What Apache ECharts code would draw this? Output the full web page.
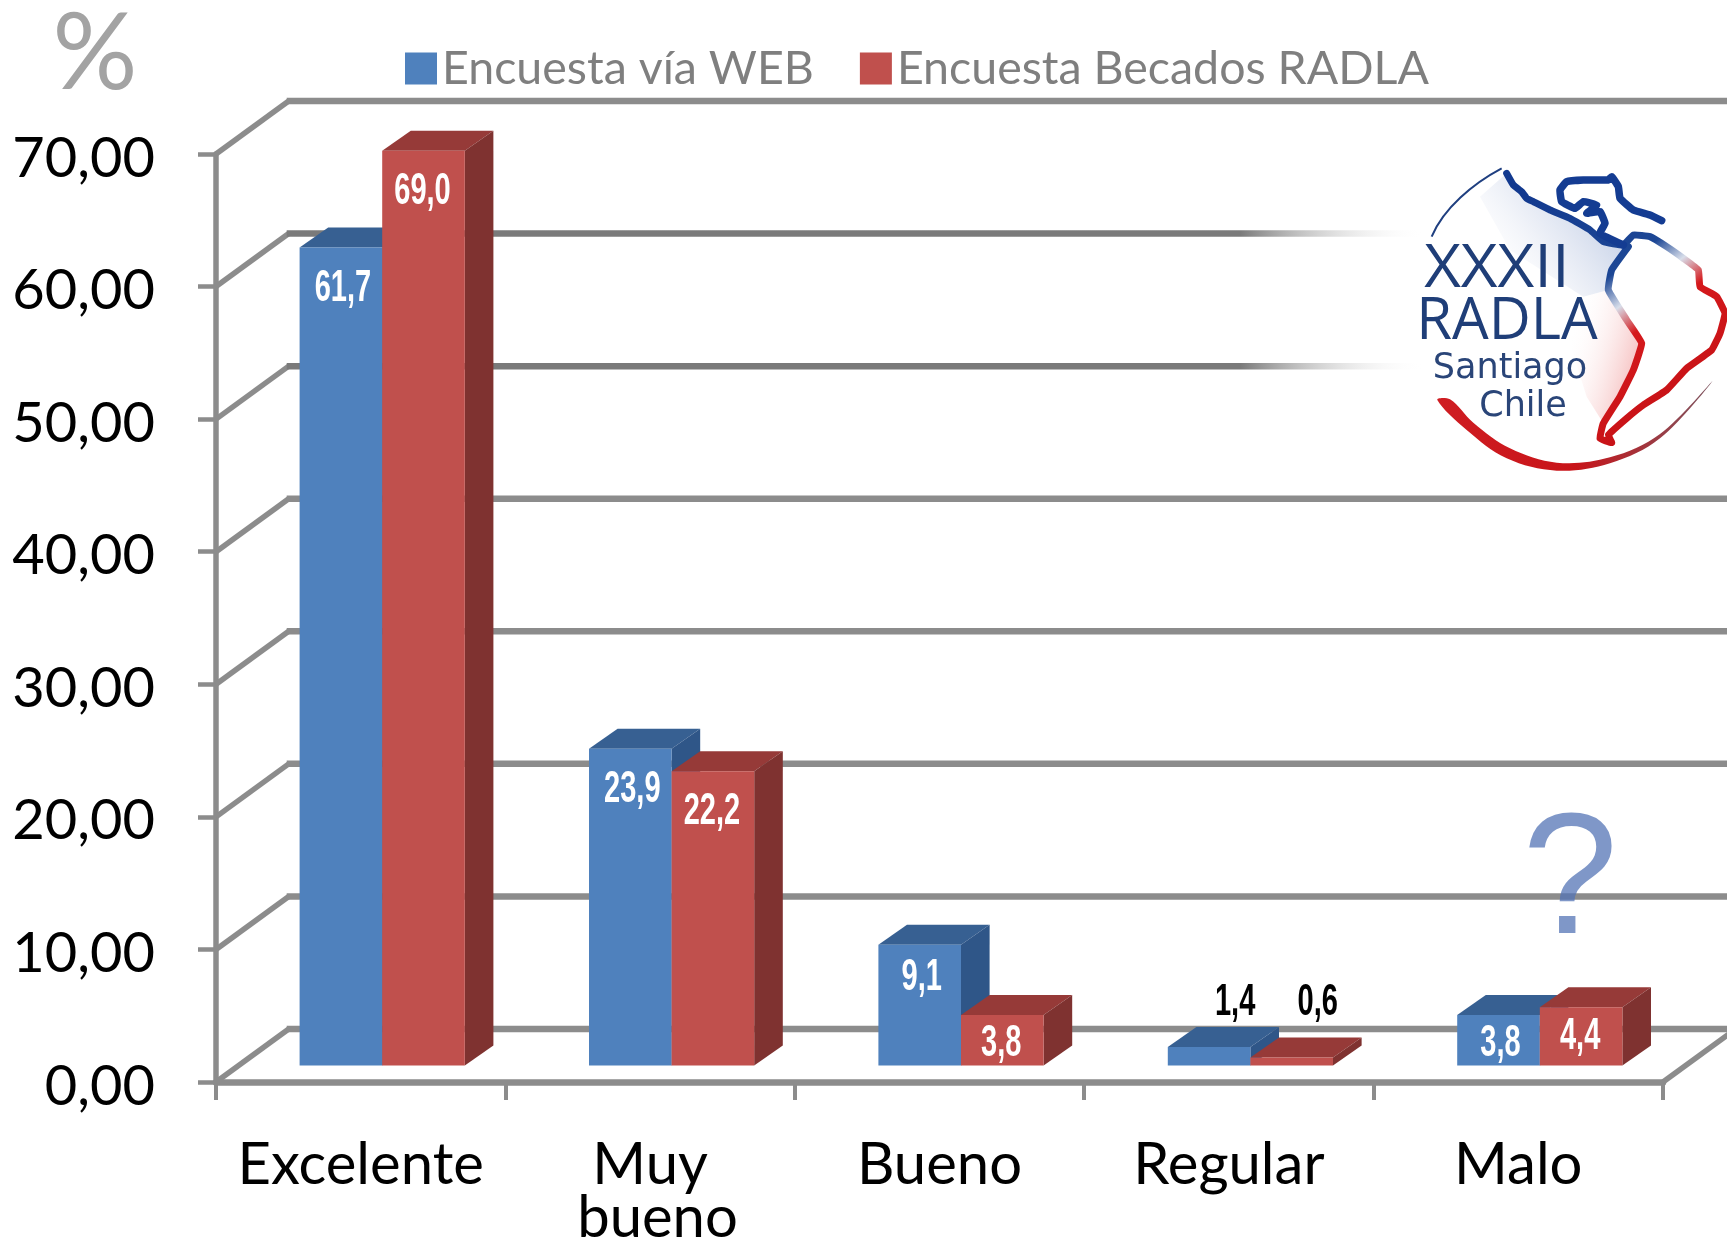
<!DOCTYPE html>
<html><head><meta charset="utf-8">
<style>html,body{margin:0;padding:0;background:#fff}#c{width:1727px;height:1244px}</style>
<script src="https://cdn.jsdelivr.net/npm/echarts@6/dist/echarts.min.js"></script>
</head><body><div id="c"></div>
<script>
const categories = ['Excelente', 'Muy bueno', 'Bueno', 'Regular', 'Malo'];
const webValues = [61.7, 23.9, 9.1, 1.4, 3.8];
const becadosValues = [69.0, 22.2, 3.8, 0.6, 4.4];
const yTicks = [0, 10, 20, 30, 40, 50, 60, 70];
const fadedTicks = [50, 60];
const seriesNames = ['Encuesta vía WEB', 'Encuesta Becados RADLA'];

const GRAY = '#8c8c8c';
const WALL_DX = 72.7, WALL_DY = 53;
const PLANE_DX = 21.5, PLANE_DY = 16.5;
const DEPTH_DX = 28.6, DEPTH_DY = 20;
const BAR_W = 82.6;
const comma = (v, d) => v.toFixed(d).replace('.', ',');

const chart = echarts.init(document.getElementById('c'), null, {renderer: 'canvas'});

function wallItem(params, api) {
  const cs = params.coordSys;
  const v = api.value(1);
  const y = api.coord([0, v])[1];
  const left = cs.x, right = cs.x + cs.width;
  const bx = left + WALL_DX, by = y - WALL_DY;
  const faded = fadedTicks.includes(v);
  const back = faded
    ? {type: 'linear', x: 1240, y: 0, x2: 1425, y2: 0, global: true,
       colorStops: [{offset: 0, color: '#7a7a7a'}, {offset: 1, color: 'rgba(255,255,255,0)'}]}
    : GRAY;
  const kids = [
    {type: 'line', shape: {x1: left, y1: y, x2: bx, y2: by}, style: {stroke: GRAY, lineWidth: 5.5}},
    {type: 'line', shape: {x1: bx - 2, y1: by, x2: faded ? 1425 : 1727, y2: by}, style: {stroke: back, lineWidth: 6.5}}
  ];
  if (v === 0) {
    kids.push({type: 'line', shape: {x1: right, y1: y, x2: right + WALL_DX, y2: by}, style: {stroke: GRAY, lineWidth: 5.5}});
  }
  return {type: 'group', children: kids};
}

function barRenderer(seriesPos, face, top, side) {
  return function (params, api) {
    const i = api.value(0), v = api.value(1);
    const c = api.coord([i, v]);
    const base = api.coord([i, 0]);
    const x0 = c[0] + PLANE_DX + (seriesPos - 1) * BAR_W;
    const x1 = x0 + BAR_W;
    const yT = c[1] - PLANE_DY, yB = base[1] - PLANE_DY;
    const kids = [
      {type: 'polygon', shape: {points: [[x0, yT], [x0 + DEPTH_DX, yT - DEPTH_DY], [x1 + DEPTH_DX, yT - DEPTH_DY], [x1, yT]]}, style: {fill: top}},
      {type: 'polygon', shape: {points: [[x1, yT], [x1 + DEPTH_DX, yT - DEPTH_DY], [x1 + DEPTH_DX, yB - DEPTH_DY], [x1, yB]]}, style: {fill: side}},
      {type: 'rect', shape: {x: x0, y: yT, width: BAR_W, height: yB - yT}, style: {fill: face}}
    ];
    const small = v < 2;
    const ly = small ? yB - 63 : yT + Math.min(41, 26 + (yB - yT) * 0.06);
    kids.push({
      type: 'text', x: x0 + BAR_W / 2 + (small ? 26 : (seriesPos === 0 ? 2 : -1)), y: ly, scaleX: 0.66, scaleY: 1, z2: 5,
      style: {text: comma(v, 1), fill: small ? '#000' : '#fff', font: 'bold 44px "Liberation Sans Narrow","Liberation Sans"',
              textAlign: 'center', textVerticalAlign: 'middle'}
    });
    return {type: 'group', children: kids};
  };
}

const L = p => [1250 + p[0] / 3, 130 + p[1] / 3];
const LL = a => a.map(L);
const mapMain = LL([[770,130],[790,165],[815,185],[830,205],[850,215],[900,240],[960,265],[1020,300],[1060,335],[1120,345],[1150,315],[1200,320],[1250,350],[1300,385],[1345,420],[1350,470],[1400,500],[1425,550],[1410,610],[1385,660],[1310,715],[1250,780],[1180,825],[1130,865],[1075,915],[1085,938],[1050,925],[1060,880],[1110,800],[1150,720],[1175,640],[1130,570],[1075,480],[1085,420],[1135,350]]);
const mapNorth = LL([[1235,272],[1200,255],[1150,240],[1110,205],[1105,170],[1085,140],[1075,150],[1000,150],[950,155],[930,180],[935,215],[975,235],[1000,215],[1040,225],[1010,250],[1050,245],[1065,280],[1050,310],[1120,345]]);
const mapStroke = {type: 'linear', x: 1558.5, y: 164.5, x2: 1741.5, y2: 401.5, global: true, colorStops: [
  {offset: 0, color: '#12398f'}, {offset: 0.4, color: '#1d4795'}, {offset: 0.5, color: '#d8deea'},
  {offset: 0.6, color: '#d5191c'}, {offset: 1, color: '#c00f14'}]};

const logo = [
  {type: 'polygon', z: 10, silent: true, shape: {points: LL([[770,130],[850,215],[1020,300],[1060,335],[1135,350],[1085,420],[1075,480],[1000,500],[780,360],[690,200]])},
   style: {fill: {type: 'linear', x: 0.05, y: 0.9, x2: 0.75, y2: 0.25, colorStops: [{offset: 0, color: 'rgba(255,255,255,0)'}, {offset: 0.55, color: 'rgba(232,236,245,0.8)'}, {offset: 1, color: '#ccd6ea'}]}}},
  {type: 'polygon', z: 10, silent: true, shape: {points: LL([[1075,480],[1130,570],[1175,640],[1150,720],[1110,800],[1060,880],[1010,800],[960,640],[1000,500]])},
   style: {fill: {type: 'linear', x: 0, y: 0.3, x2: 1, y2: 0.45, colorStops: [{offset: 0, color: 'rgba(255,255,255,0)'}, {offset: 1, color: '#f6c2c2'}]}}},
  {type: 'bezierCurve', z: 11, silent: true, shape: {x1: L([755,115])[0], y1: L([755,115])[1], cpx1: L([670,160])[0], cpy1: L([670,160])[1], cpx2: L([580,235])[0], cpy2: L([580,235])[1], x2: L([545,320])[0], y2: L([545,320])[1]}, style: {stroke: '#1f3f80', lineWidth: 2, fill: 'none'}},
  {type: 'polygon', z: 11, silent: true, shape: {smooth: 0.35, points: LL([[562,810],[650,900],[770,985],[920,1022],[1080,1000],[1230,925],[1388,752],[1230,912],[1080,982],[920,998],[780,955],[670,878],[600,808]])},
   style: {fill: {type: 'linear', x: 0, y: 0, x2: 1, y2: 0, colorStops: [{offset: 0, color: '#cf1d22'}, {offset: 0.5, color: '#c81419'}, {offset: 1, color: '#7d5560'}]}}},
  {type: 'polyline', z: 11, silent: true, shape: {points: mapMain, smooth: 0.1}, style: {stroke: mapStroke, lineWidth: 7, fill: 'none', lineJoin: 'round', lineCap: 'round'}},
  {type: 'polyline', z: 11, silent: true, shape: {points: mapNorth, smooth: 0.1}, style: {stroke: '#143c92', lineWidth: 7.5, fill: 'none', lineJoin: 'round', lineCap: 'round'}},
  {type: 'text', z: 12, silent: true, x: 1497, y: 270, scaleX: 1.06, style: {text: 'XXXII', fill: '#1f3e78', font: '60px "Open Sans"', textAlign: 'center', textVerticalAlign: 'middle'}},
  {type: 'text', z: 12, silent: true, x: 1507, y: 322, style: {text: 'RADLA', fill: '#1f3e78', font: '58px "Open Sans"', textAlign: 'center', textVerticalAlign: 'middle'}},
  {type: 'text', z: 12, silent: true, x: 1510, y: 369, style: {text: 'Santiago', fill: '#2a4578', font: '35px "DejaVu Sans"', textAlign: 'center', textVerticalAlign: 'middle'}},
  {type: 'text', z: 12, silent: true, x: 1523, y: 407, style: {text: 'Chile', fill: '#2a4578', font: '35px "DejaVu Sans"', textAlign: 'center', textVerticalAlign: 'middle'}},
  {type: 'text', z: 12, silent: true, x: 95, y: 55, style: {text: '%', fill: '#a3a3a3', font: '106px Lato', textAlign: 'center', textVerticalAlign: 'middle'}},
  {type: 'text', z: 12, silent: true, x: 1570, y: 886, style: {text: '?', fill: 'rgba(84,116,182,0.75)', font: '172px "Liberation Sans"', textAlign: 'center', textVerticalAlign: 'middle'}}
];

chart.setOption({
  animation: false,
  backgroundColor: '#fff',
  grid: {left: 216, right: 64, top: 154, bottom: 162, containLabel: false, outerBoundsMode: 'none'},
  legend: {
    left: 400, top: 40, itemWidth: 32, itemHeight: 32, itemGap: 46, icon: 'rect',
    data: seriesNames,
    textStyle: {color: '#7f7f7f', fontFamily: 'Lato', fontSize: 46.5}
  },
  xAxis: {
    type: 'category', data: categories,
    axisLine: {lineStyle: {color: GRAY, width: 6.5}},
    axisTick: {show: true, length: 18, lineStyle: {color: GRAY, width: 4}},
    axisLabel: {color: '#000', fontFamily: 'Lato', fontSize: 58, margin: 57, lineHeight: 53, interval: 0, align: 'center', verticalAlign: 'top',
      formatter: s => s.replace(' ', '\n ')}
  },
  yAxis: {
    type: 'value', min: 0, max: 70, interval: 10,
    splitLine: {show: false},
    axisLine: {show: true, lineStyle: {color: GRAY, width: 5.5}},
    axisTick: {show: true, length: 18, lineStyle: {color: GRAY, width: 4.5}},
    axisLabel: {color: '#000', fontFamily: 'Lato', fontSize: 56, margin: 61, verticalAlign: 'top', lineHeight: 9, formatter: v => comma(v, 2)}
  },
  graphic: {elements: logo},
  series: [
    {type: 'custom', silent: true, z: 1, renderItem: wallItem, encode: {x: 0, y: 1}, data: yTicks.map(v => [0, v])},
    {type: 'custom', name: seriesNames[0], z: 3, itemStyle: {color: '#4f81bd'}, encode: {x: 0, y: 1},
     renderItem: barRenderer(0, '#4f81bd', '#376092', '#2f5688'), data: webValues.map((v, i) => [i, v])},
    {type: 'custom', name: seriesNames[1], z: 4, itemStyle: {color: '#c0504d'}, encode: {x: 0, y: 1},
     renderItem: barRenderer(1, '#c0504d', '#963a38', '#7f3230'), data: becadosValues.map((v, i) => [i, v])}
  ]
});
</script></body></html>
